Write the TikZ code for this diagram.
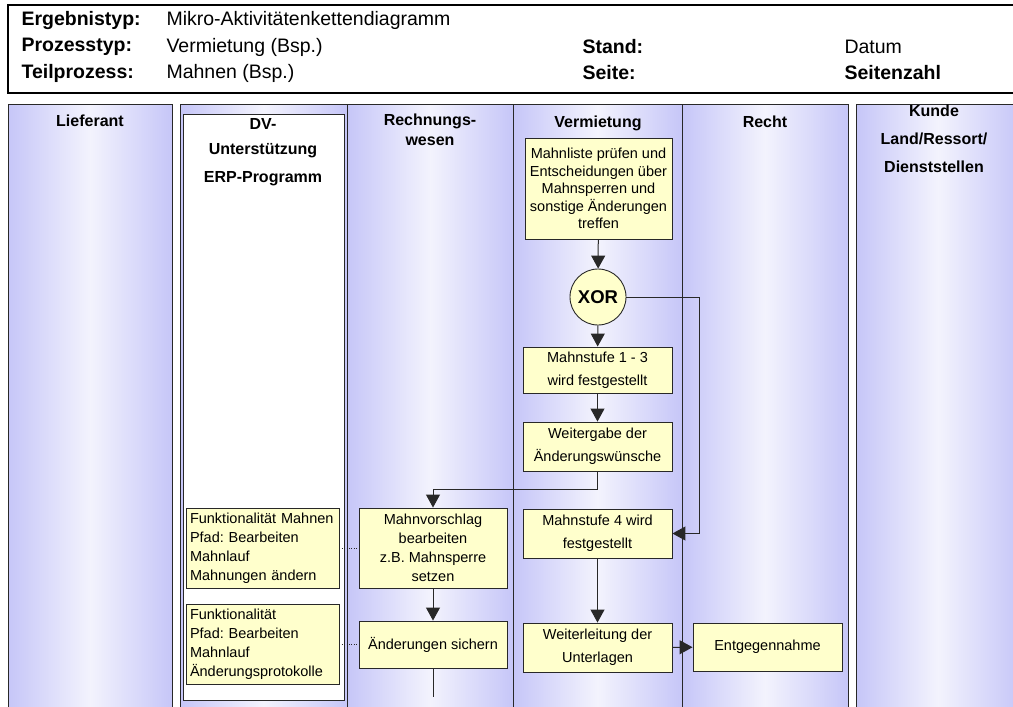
\documentclass[tikz,border=0pt]{standalone}
\usepackage{fontspec}
\setmainfont{Liberation Sans}
\usetikzlibrary{arrows.meta}
\definecolor{laneEdge}{RGB}{198,198,248}
\definecolor{laneMid}{RGB}{243,243,253}
\definecolor{boxFill}{RGB}{255,255,204}
\definecolor{rand}{RGB}{40,40,40}
\frenchspacing
\begin{document}
\begin{tikzpicture}[x=1pt,y=-1pt,
    lane/.style={left color=laneEdge,right color=laneEdge,middle color=laneMid},
    titel/.style={font=\fontsize{16}{20}\selectfont\bfseries,align=center},
    kopf/.style={anchor=west,font=\fontsize{19.5}{22}\selectfont},
    kopffett/.style={kopf,font=\fontsize{19.5}{22}\selectfont\bfseries},
    aktion/.style={draw=rand,fill=boxFill,line width=0.9pt,align=center,inner sep=2pt,
      font=\fontsize{14.5}{19}\selectfont},
    weit/.style={font=\fontsize{14.5}{23}\selectfont},
    arr/.style={draw=rand,line width=1pt,-{Triangle[length=13pt,width=14pt]}}]

    \useasboundingbox (0,0) rectangle (1013,707);

    % Kopf
    \draw[line width=1.2pt] (1020,5) -- (8,5) -- (8,93) -- (1020,93);
    \node[kopffett] (ergebnis) at (18,20) {Ergebnistyp:};
    \node[kopf] (ergebnisWert) at (163,20) {Mikro-Aktivitätenkettendiagramm};
    \node[kopffett] (prozess) at (18,47) {Prozesstyp:};
    \node[kopf] (prozessWert) at (163,47) {Vermietung (Bsp.)};
    \node[kopffett] (teil) at (18,73) {Teilprozess:};
    \node[kopf] (teilWert) at (163,73) {Mahnen (Bsp.)};
    \node[kopffett] (stand) at (579,47) {Stand:};
    \node[kopf] (standWert) at (841,47) {Datum};
    \node[kopffett] (seite) at (579,73) {Seite:};
    \node[kopffett] (seiteWert) at (841,73) {Seitenzahl};

    % Bahnen
    \foreach \xa/\xb in {8/172,180/347,347/513,513/682,682/848,856/1020}
      \shade[lane] (\xa,104) rectangle (\xb,715);
    \foreach \xa/\xb in {8/172,180/347,347/513,513/682,682/848,856/1020}
      \draw[rand,line width=1pt] (\xa,715) -- (\xa,104) -- (\xb,104) -- (\xb,715);
    \draw[rand,fill=white,line width=0.8pt] (183,114) rectangle (344,700);

    \node[titel] (lieferant) at (90,121) {Lieferant};
    \node[titel,font=\fontsize{16}{25}\selectfont\bfseries] (dv) at (263,152) {DV-\\Unterstützung\\[3pt]ERP-Programm};
    \node[titel] (rewe) at (430,130) {Rechnungs-\\wesen};
    \node[titel] (vermietung) at (598,123) {Vermietung};
    \node[titel] (recht) at (765,122) {Recht};
    \node[titel,font=\fontsize{16}{28}\selectfont\bfseries] (kunde) at (934,139) {Kunde\\Land/Ressort/\\Dienststellen};

    % Aktionen
    \node[aktion,minimum width=147pt,minimum height=101pt,font=\fontsize{14.5}{17.5}\selectfont] (pruefen) at (598.5,188.5)
      {Mahnliste prüfen und\\Entscheidungen über\\Mahnsperren und\\sonstige Änderungen\\treffen};
    \node[aktion,circle,minimum size=56pt,inner sep=0pt,font=\fontsize{18.5}{22}\selectfont\bfseries] (xor) at (598,297) {XOR};
    \node[aktion,weit,minimum width=149pt,minimum height=46pt] (stufeEins) at (597.5,370) {Mahnstufe 1 - 3\\wird festgestellt};
    \node[aktion,weit,minimum width=149pt,minimum height=49pt] (weitergabe) at (597.5,446.5) {Weitergabe der\\Änderungswünsche};
    \node[aktion,weit,minimum width=149pt,minimum height=49pt] (stufeVier) at (597.5,533.5) {Mahnstufe 4 wird\\festgestellt};
    \node[aktion,weit,minimum width=149pt,minimum height=49pt] (weiterleitung) at (597.5,647.5) {Weiterleitung der\\Unterlagen};
    \node[aktion,minimum width=149pt,minimum height=48pt] (entgegen) at (767.5,647) {Entgegennahme};
    \node[aktion,minimum width=148pt,minimum height=80pt] (vorschlag) at (433,548) {Mahnvorschlag\\bearbeiten\\z.B. Mahnsperre\\setzen};
    \node[aktion,minimum width=148pt,minimum height=47pt] (sichern) at (433,644.5) {Änderungen sichern};
    \node[aktion,align=left,minimum width=153pt,minimum height=80pt,text width=145pt] (funkMahnen) at (262.5,548)
      {Funktionalität Mahnen\\Pfad: Bearbeiten\\Mahnlauf\\Mahnungen ändern};
    \node[aktion,align=left,minimum width=153pt,minimum height=80pt,text width=145pt] (funkProt) at (262.5,644)
      {Funktionalität\\Pfad: Bearbeiten\\Mahnlauf\\Änderungsprotokolle};
    \coordinate (ende) at (433,697);

    \draw[arr] (pruefen) -- (xor);
    \draw[arr] (xor) -- (stufeEins);
    \draw[arr] (stufeEins) -- (weitergabe);
    \draw[arr] (weitergabe.south) -- ++(0,18) -| (vorschlag.north);
    \draw[arr] (vorschlag) -- (sichern);
    \draw[rand,line width=1pt] (sichern) -- (ende);
    \draw[arr] (xor.east) -- ++(73,0) |- (stufeVier.east);
    \draw[arr] (stufeVier) -- (weiterleitung);
    \draw[arr] (weiterleitung) -- (entgegen);
    \draw[rand,dotted] (funkMahnen) -- (vorschlag);
    \draw[rand,dotted] (funkProt.east) -- (sichern.west |- funkProt.east);

\end{tikzpicture}
\end{document}
